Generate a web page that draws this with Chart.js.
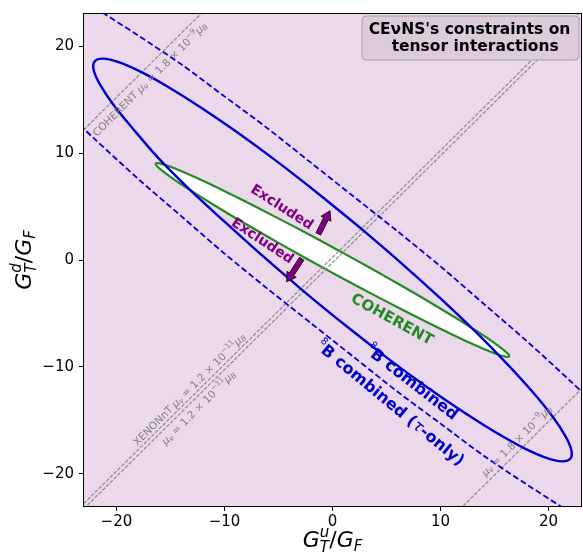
<!DOCTYPE html>
<html>
<head>
<meta charset="utf-8">
<script src="https://cdn.jsdelivr.net/npm/chart.js@4/dist/chart.umd.min.js"></script>
<style>
html, body { margin: 0; padding: 0; background: #fff; }
</style>
</head>
<body>
<canvas id="chart" width="583" height="554"></canvas>
<script>
// ---- data ----
const tickVals = [-20, -10, 0, 10, 20];
const tickLabels = ['\u221220', '\u221210', '0', '10', '20'];

// 8B combined contour (solid blue, closed)
const b8X = [2.55, -1.31, -5.12, -8.79, -12.19, -15.21, -17.77, -19.80, -21.23, -22.00, -22.11, -21.54, -20.33, -18.49, -16.09, -13.21, -9.92, -6.33, -2.55, 1.31, 5.12, 8.79, 12.19, 15.21, 17.77, 19.80, 21.23, 22.00, 22.11, 21.54, 20.33, 18.49, 16.09, 13.21, 9.92, 6.33, 2.55];
const b8Y = [3.02, 6.20, 9.20, 11.92, 14.26, 16.18, 17.61, 18.50, 18.83, 18.59, 17.79, 16.44, 14.59, 12.30, 9.50, 6.58, 3.52, 0.26, -3.02, -6.20, -9.20, -11.92, -14.26, -16.18, -17.61, -18.50, -18.83, -18.59, -17.79, -16.44, -14.59, -12.30, -9.64, -6.68, -3.52, -0.26, 3.02];

// COHERENT contour (green, allowed region inside)
const cohX = [0.51, -2.34, -5.11, -7.74, -10.12, -12.19, -13.91, -15.19, -16.01, -16.35, -16.19, -15.53, -14.41, -12.85, -10.90, -8.62, -6.07, -3.34, -0.51, 2.34, 5.11, 7.74, 10.12, 12.19, 13.91, 15.19, 16.01, 16.35, 16.19, 15.53, 14.41, 12.85, 10.90, 8.62, 6.07, 3.34, 0.51];
const cohY = [0.92, 2.48, 3.94, 5.31, 6.50, 7.50, 8.27, 8.79, 9.04, 9.02, 8.72, 8.17, 7.35, 6.32, 5.10, 3.71, 2.22, 0.66, -0.92, -2.48, -3.94, -5.31, -6.50, -7.50, -8.27, -8.79, -9.04, -9.02, -8.72, -8.17, -7.35, -6.32, -5.10, -3.71, -2.22, -0.66, 0.92];

// 8B combined (tau-only), dashed blue branches
const tauUpX = [-22, -18, -14, -10, -6, -2, 2, 6, 10, 14, 18, 22, 24];
const tauUpY = [23.6, 21.0, 18.3, 15.3, 12.3, 9.1, 5.9, 2.7, -0.6, -4.1, -7.6, -11.3, -13.2];
const tauLoX = [-24, -22, -18, -14, -10, -6, -2, 2, 6, 10, 14, 18, 22];
const tauLoY = [13.2, 11.3, 7.6, 4.1, 0.6, -2.7, -5.9, -9.1, -12.3, -15.3, -18.3, -21.0, -23.6];

// magnetic moment lines (gray dashed)
const cohMuAX = [-30, -10], cohMuAY = [5.2, 25.2];
const cohMuBX = [10, 30], cohMuBY = [-25.1, -5.1];
const xenAX = [-30, 30], xenAY = [-29.75, 30.25];
const xenBX = [-30, 30], xenBY = [-30.25, 29.75];

function pts(xs, ys) { return xs.map((x, i) => ({ x: x, y: ys[i] })); }

const BLUE = '#0000cd', GREEN = '#228b22', PURPLE = '#800080', GRAY = '#808080';
const FF = "'DejaVu Sans'";

// annotations, positions in data units
const texts = [
  { x: 5.5, y: -5.6, a: 28.8, color: GREEN, segs: [{ t: 'COHERENT', f: 'bold 15px ' + FF }] },
  { x: 7.3, y: -11.5, a: 37.7, color: BLUE, segs: [{ t: '8', f: '10px ' + FF, dy: -6 }, { t: 'B combined', f: 'bold 16px ' + FF }] },
  { x: 5.3, y: -13.45, a: 39.5, color: BLUE, segs: [{ t: '8', f: '10px ' + FF, dy: -6 }, { t: 'B combined (', f: 'bold 16px ' + FF }, { t: '\u03c4', f: 'italic 16px ' + FF }, { t: '-only)', f: 'bold 16px ' + FF }] },
  { x: -4.7, y: 4.9, a: 32.7, color: PURPLE, segs: [{ t: 'Excluded', f: 'bold 14px ' + FF }] },
  { x: -6.5, y: 1.75, a: 33.4, color: PURPLE, segs: [{ t: 'Excluded', f: 'bold 14px ' + FF }] },
  { x: -16.85, y: 16.85, a: -45, color: GRAY, segs: muSegs('COHERENT ', '1.8', '\u22129') },
  { x: -13.2, y: -12.15, a: -45, color: GRAY, segs: muSegs('XENONnT ', '1.2', '\u221211') },
  { x: -12.35, y: -13.85, a: -45, color: GRAY, segs: muSegs('', '1.2', '\u221211') },
  { x: 17.1, y: -16.95, a: -45, color: GRAY, segs: muSegs('', '1.8', '\u22129') }
];
const arrows = [
  { x0: -1.31, y0: 2.44, x1: -0.23, y1: 4.61 },
  { x0: -2.85, y0: 0.12, x1: -4.24, y1: -2.04 }
];

function muSegs(pre, val, ex) {
  const r = '10.5px ' + FF, it = 'italic 10.5px ' + FF, s = '7.5px ' + FF, si = 'italic 7.5px ' + FF;
  const out = [];
  if (pre) out.push({ t: pre, f: r });
  out.push({ t: '\u03bc', f: it }, { t: '\u03bd', f: si, dy: 2 }, { t: ' = ' + val + ' \u00d7 10', f: r },
    { t: ex, f: s, dy: -4 }, { t: '\u03bc', f: it }, { t: 'B', f: si, dy: 2 });
  return out;
}

function segWidth(ctx, segs) {
  let w = 0, last = 0;
  segs.forEach(s => {
    ctx.font = s.f;
    const sw = ctx.measureText(s.t).width;
    if (s.stack) { w += Math.max(0, sw - last); last = Math.max(sw, last); }
    else { w += sw; last = sw; }
  });
  return w;
}

function drawRich(ctx, segs, x, y, ang, color) {
  ctx.save();
  ctx.translate(x, y);
  ctx.rotate(ang * Math.PI / 180);
  ctx.fillStyle = color;
  ctx.textBaseline = 'middle';
  ctx.textAlign = 'left';
  let cx = -segWidth(ctx, segs) / 2, prevX = cx, last = 0;
  segs.forEach(s => {
    ctx.font = s.f;
    const sw = ctx.measureText(s.t).width;
    if (s.stack) {
      ctx.fillText(s.t, prevX, s.dy || 0);
      cx = prevX + Math.max(sw, last);
    } else {
      ctx.fillText(s.t, cx, s.dy || 0);
      prevX = cx; last = sw; cx += sw;
    }
  });
  ctx.restore();
}

function drawArrow(ctx, x0, y0, x1, y1) {
  const dx = x1 - x0, dy = y1 - y0, L = Math.hypot(dx, dy);
  const ux = dx / L, uy = dy / L, px = -uy, py = ux;
  const w = 2.6, hw = 5.5, hl = 9;
  const nx = x1 - ux * hl, ny = y1 - uy * hl;
  ctx.save();
  ctx.beginPath();
  ctx.moveTo(x0 + px * w, y0 + py * w);
  ctx.lineTo(nx + px * w, ny + py * w);
  ctx.lineTo(nx + px * hw, ny + py * hw);
  ctx.lineTo(x1, y1);
  ctx.lineTo(nx - px * hw, ny - py * hw);
  ctx.lineTo(nx - px * w, ny - py * w);
  ctx.lineTo(x0 - px * w, y0 - py * w);
  ctx.closePath();
  ctx.fillStyle = PURPLE;
  ctx.fill();
  ctx.lineWidth = 0.8;
  ctx.strokeStyle = '#000';
  ctx.stroke();
  ctx.restore();
}

const decor = {
  id: 'decor',
  beforeDatasetsDraw(chart) {
    const { ctx, chartArea: a } = chart;
    ctx.save();
    ctx.fillStyle = '#ebd8eb';
    ctx.fillRect(a.left, a.top, a.right - a.left, a.bottom - a.top);
    ctx.restore();
  },
  afterDatasetsDraw(chart) {
    const { ctx, chartArea: a, scales } = chart;
    const sx = scales.x, sy = scales.y;
    ctx.save();
    ctx.beginPath();
    ctx.rect(a.left, a.top, a.right - a.left, a.bottom - a.top);
    ctx.clip();
    texts.forEach(t => drawRich(ctx, t.segs, sx.getPixelForValue(t.x), sy.getPixelForValue(t.y), t.a, t.color));
    arrows.forEach(r => drawArrow(ctx, sx.getPixelForValue(r.x0), sy.getPixelForValue(r.y0), sx.getPixelForValue(r.x1), sy.getPixelForValue(r.y1)));

    // title box
    const bw = 217, bh = 44, bx = a.right - 2 - bw, by = a.top + 2;
    ctx.beginPath();
    ctx.roundRect(bx, by, bw, bh, 4);
    ctx.fillStyle = '#dbcbdb';
    ctx.fill();
    ctx.lineWidth = 1;
    ctx.strokeStyle = '#a8a0a8';
    ctx.stroke();
    ctx.fillStyle = '#000';
    ctx.font = 'bold 15.5px ' + FF;
    ctx.textAlign = 'center';
    ctx.textBaseline = 'middle';
    ctx.fillText("CE\u03bdNS's constraints on", bx + bw / 2 - 1, by + 14);
    ctx.fillText(' tensor interactions', bx + bw / 2 + 2, by + 31);
    ctx.restore();

    // frame
    ctx.save();
    ctx.strokeStyle = '#000';
    ctx.lineWidth = 1;
    ctx.strokeRect(Math.round(a.left) - 0.5, Math.round(a.top) - 0.5, Math.round(a.right - a.left) + 1, Math.round(a.bottom - a.top) + 1);
    ctx.restore();

    // axis titles
    const big = 'italic 22px ' + FF, sm = 'italic 15px ' + FF, up = '22px ' + FF;
    drawRich(ctx, [{ t: 'G', f: big }, { t: 'u', f: sm, dy: -8 }, { t: 'T', f: sm, dy: 7, stack: true }, { t: '/', f: up }, { t: 'G', f: big }, { t: 'F', f: sm, dy: 6 }],
      (a.left + a.right) / 2, 541, 0, '#000');
    drawRich(ctx, [{ t: 'G', f: big }, { t: 'd', f: sm, dy: -8 }, { t: 'T', f: sm, dy: 7, stack: true }, { t: '/', f: up }, { t: 'G', f: big }, { t: 'F', f: sm, dy: 6 }],
      25, (a.top + a.bottom) / 2, -90, '#000');
  }
};

const axisCommon = {
  type: 'linear', min: -23, max: 23,
  afterBuildTicks: s => { s.ticks = tickVals.map(v => ({ value: v })); },
  ticks: {
    callback: v => tickLabels[tickVals.indexOf(v)],
    font: { family: 'DejaVu Sans', size: 15 }, color: '#000', autoSkip: false, maxRotation: 0
  },
  grid: { drawOnChartArea: false, drawTicks: true, tickLength: 5, color: '#000', lineWidth: 1 },
  border: { display: false }
};

const ctx = document.getElementById('chart').getContext('2d');
new Chart(ctx, {
  type: 'scatter',
  data: {
    datasets: [
      { data: pts(cohMuAX, cohMuAY), borderColor: '#8a8a8a', borderWidth: 1.2, borderDash: [3.7, 1.6], order: 2 },
      { data: pts(cohMuBX, cohMuBY), borderColor: '#8a8a8a', borderWidth: 1.2, borderDash: [3.7, 1.6], order: 2 },
      { data: pts(xenAX, xenAY), borderColor: '#8a8a8a', borderWidth: 1.2, borderDash: [3.7, 1.6], order: 2 },
      { data: pts(xenBX, xenBY), borderColor: '#8a8a8a', borderWidth: 1.2, borderDash: [3.7, 1.6], order: 2 },
      { data: pts(b8X, b8Y), borderColor: BLUE, borderWidth: 2.4, tension: 0.35, order: 1 },
      { data: pts(tauUpX, tauUpY), borderColor: BLUE, borderWidth: 1.8, borderDash: [6, 3], tension: 0.3, order: 1 },
      { data: pts(tauLoX, tauLoY), borderColor: BLUE, borderWidth: 1.8, borderDash: [6, 3], tension: 0.3, order: 1 },
      { data: pts(cohX, cohY), borderColor: GREEN, borderWidth: 2.2, tension: 0.35, fill: 'shape', backgroundColor: '#ffffff', order: 3 }
    ].map(d => Object.assign({ showLine: true, pointRadius: 0, pointHoverRadius: 0 }, d))
  },
  options: {
    responsive: false,
    animation: false,
    devicePixelRatio: 1,
    layout: { padding: { left: 0, right: 2, top: 10, bottom: 0 } },
    plugins: { legend: { display: false }, tooltip: { enabled: false } },
    scales: {
      x: Object.assign({}, axisCommon, {
        position: 'bottom',
        afterFit: s => { s.height = 48; },
        ticks: Object.assign({}, axisCommon.ticks, { padding: 2 })
      }),
      y: Object.assign({}, axisCommon, {
        position: 'left',
        afterFit: s => { s.width = 84; },
        ticks: Object.assign({}, axisCommon.ticks, { padding: 5 })
      })
    }
  },
  plugins: [decor]
});
</script>
</body>
</html>
